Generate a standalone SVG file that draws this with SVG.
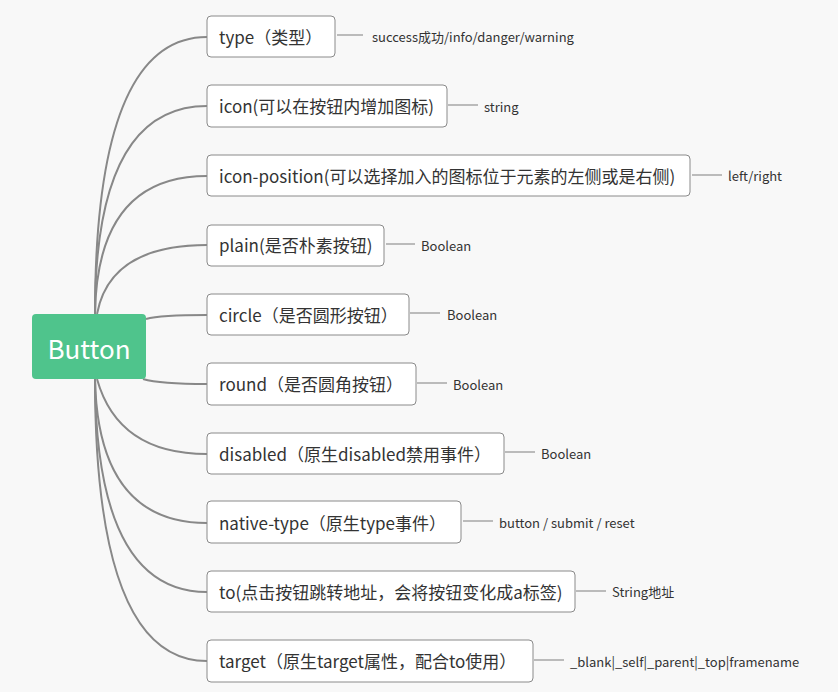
<svg xmlns="http://www.w3.org/2000/svg" width="838" height="692" viewBox="0 0 838 692">
<style>
.bg{fill:#f8f8f8}
.node rect{fill:#ffffff;stroke:#8a8a8a;stroke-width:1}
.node text{font-family:"Noto Sans CJK SC","Noto Sans",sans-serif;font-size:17px;fill:#333333}
.leaf{font-family:"Noto Sans CJK SC","Noto Sans",sans-serif;font-size:13px;fill:#333333}
.conn path{fill:none;stroke:#888888;stroke-width:2}
.conn line{stroke:#999999;stroke-width:1.3}
</style>
<rect class="bg" x="0" y="0" width="838" height="692"/>
<g id="connectors" class="conn">
<path d="M95 314 Q95 37 207 37"/>
<path d="M95 314 Q95 106 207 106"/>
<path d="M95 314 Q97 176 207 176"/>
<path d="M97 314 Q110 245 207 245"/>
<path d="M146 319 Q160 315 207 315"/>
<path d="M143 379 Q160 384 207 384"/>
<path d="M97 379 Q118 454 207 454"/>
<path d="M95 379 Q98 523 207 523"/>
<path d="M95 379 Q96 592 207 592"/>
<path d="M95 379 Q95 661 207 661"/>
<line x1="337" y1="35" x2="363" y2="35"/>
<line x1="448" y1="105" x2="478" y2="105"/>
<line x1="692" y1="175" x2="722" y2="175"/>
<line x1="386" y1="244" x2="415" y2="244"/>
<line x1="410" y1="313" x2="440" y2="313"/>
<line x1="417" y1="383" x2="447" y2="383"/>
<line x1="505" y1="452" x2="535" y2="452"/>
<line x1="463" y1="521" x2="493" y2="521"/>
<line x1="576" y1="591" x2="606" y2="591"/>
<line x1="534" y1="660" x2="564" y2="660"/>
</g>
<g id="root">
<rect x="32" y="314" width="114" height="65" rx="4" fill="#4fc48c"/>
<text x="89" y="359" text-anchor="middle" font-family="Noto Sans CJK SC,Noto Sans,sans-serif" font-size="26" fill="#ffffff">Button</text>
</g>
<g id="n-type" class="node"><rect x="207" y="16" width="128" height="41" rx="4"/><text x="219" y="44">type（类型）</text></g>
<g id="n-icon" class="node"><rect x="207" y="85" width="240" height="42" rx="4"/><text x="219" y="113">icon(可以在按钮内增加图标)</text></g>
<g id="n-iconpos" class="node"><rect x="207" y="155" width="483" height="41" rx="4"/><text x="219" y="183">icon-position(可以选择加入的图标位于元素的左侧或是右侧)</text></g>
<g id="n-plain" class="node"><rect x="207" y="225" width="177" height="41" rx="4"/><text x="219" y="252">plain(是否朴素按钮)</text></g>
<g id="n-circle" class="node"><rect x="207" y="294" width="202" height="41" rx="4"/><text x="219" y="322">circle（是否圆形按钮）</text></g>
<g id="n-round" class="node"><rect x="207" y="363" width="209" height="42" rx="4"/><text x="219" y="391">round（是否圆角按钮）</text></g>
<g id="n-disabled" class="node"><rect x="207" y="433" width="297" height="41" rx="4"/><text x="219" y="461">disabled（原生disabled禁用事件）</text></g>
<g id="n-native" class="node"><rect x="207" y="501" width="254" height="42" rx="4"/><text x="219" y="530">native-type（原生type事件）</text></g>
<g id="n-to" class="node"><rect x="207" y="571" width="368" height="41" rx="4"/><text x="219" y="599">to(点击按钮跳转地址，会将按钮变化成a标签)</text></g>
<g id="n-target" class="node"><rect x="207" y="640" width="326" height="42" rx="4"/><text x="219" y="668">target（原生target属性，配合to使用）</text></g>
<g id="leaves">
<text class="leaf" x="372" y="42">success成功/info/danger/warning</text>
<text class="leaf" x="484" y="112">string</text>
<text class="leaf" x="728" y="181">left/right</text>
<text class="leaf" x="421" y="251">Boolean</text>
<text class="leaf" x="447" y="320">Boolean</text>
<text class="leaf" x="453" y="390">Boolean</text>
<text class="leaf" x="541" y="459">Boolean</text>
<text class="leaf" x="499" y="528">button / submit / reset</text>
<text class="leaf" x="612" y="597">String地址</text>
<text class="leaf" x="570" y="667">_blank|_self|_parent|_top|framename</text>
</g>
</svg>
